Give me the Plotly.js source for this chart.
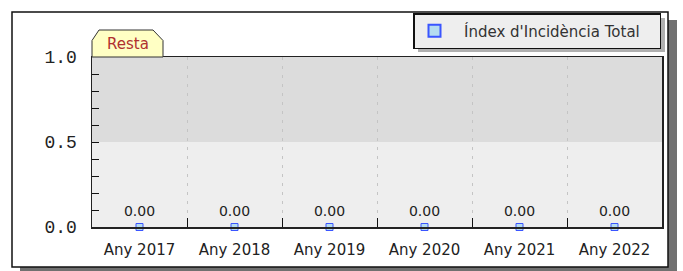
<!DOCTYPE html>
<html>
<head>
<meta charset="utf-8">
<script src="https://cdn.plot.ly/plotly-3.0.1.min.js"></script>
<style>html,body{margin:0;padding:0;background:#fff;}#chart{width:683px;height:271px;}</style>
</head>
<body>
<div id="chart"></div>
<script>
// ---- data ----
var categories = ["Any 2017", "Any 2018", "Any 2019", "Any 2020", "Any 2021", "Any 2022"];
var values = [0, 0, 0, 0, 0, 0];
var seriesName = "Índex d'Incidència Total";
var yTickVals = [0, 0.1, 0.2, 0.3, 0.4, 0.5, 0.6, 0.7, 0.8, 0.9, 1.0];
var yTickText = ["0.0", "", "", "", "", "0.5", "", "", "", "", "1.0"];
var bandLabel = "Resta";

// ---- layout helpers (pixel -> paper) ----
var L = 92, R = 21, T = 57, B = 44, W = 683, H = 271;
var PW = W - L - R, PH = H - T - B;
function px(x) { return (x - L) / PW; }
function py(y) { return (H - B - y) / PH; }

var traces = [
  {
    type: "scatter", mode: "markers", x: categories, y: values,
    name: "\u00a0\u00a0" + seriesName + "\u00a0\u00a0\u00a0",
    marker: { symbol: "square", size: 7, color: "#b4dcf0", line: { color: "#3a55ff", width: 1 } },
    cliponaxis: false, hoverinfo: "skip"
  },
  {
    type: "scatter", mode: "markers+text", x: categories, y: values, showlegend: false,
    marker: { size: 11, opacity: 0 },
    texttemplate: "%{y:.2f}", textposition: "top center",
    textfont: { family: "DejaVu Sans", size: 14, color: "#222" },
    cliponaxis: false, hoverinfo: "skip"
  }
];

var tabPath = "M " + px(92) + " " + py(57) + " L " + px(92) + " " + py(40.5) +
  " L " + px(99) + " " + py(30) + " L " + px(153) + " " + py(30) +
  " L " + px(163) + " " + py(40.5) + " L " + px(163) + " " + py(57) + " Z";

var layout = {
  width: W, height: H,
  margin: { l: L, r: R, t: T, b: B, pad: 0 },
  paper_bgcolor: "#ffffff", plot_bgcolor: "rgba(0,0,0,0)",
  showlegend: true,
  legend: {
    x: px(413), y: py(13), xanchor: "left", yanchor: "top",
    bgcolor: "#eeeeee", bordercolor: "#111", borderwidth: 1.5,
    itemsizing: "constant",
    font: { family: "DejaVu Sans", size: 15, color: "#333" }
  },
  xaxis: {
    type: "category", range: [-0.5, 5.5], fixedrange: true,
    tickson: "boundaries", ticks: "inside", ticklen: 9, tickwidth: 1, tickcolor: "#111",
    showgrid: true, gridcolor: "#c4c4c4", griddash: "3px,6px", gridwidth: 1,
    showline: true, linecolor: "#222", linewidth: 1.5, mirror: true, zeroline: false,
    ticklabelstandoff: 8,
    tickfont: { family: "DejaVu Sans", size: 15, color: "#222" }
  },
  yaxis: {
    range: [0, 1], fixedrange: true,
    tickmode: "array", tickvals: yTickVals, ticktext: yTickText,
    ticks: "inside", ticklen: 7, tickwidth: 1, tickcolor: "#111",
    showgrid: false, zeroline: false,
    showline: true, linecolor: "#222", linewidth: 1.5, mirror: true,
    ticklabelstandoff: 10,
    tickfont: { family: "Liberation Mono", size: 18, color: "#222" }
  },
  shapes: [
    // outer frame shadow
    { type: "rect", xref: "paper", yref: "paper", layer: "below",
      x0: px(20), x1: px(677), y0: py(276), y1: py(20), fillcolor: "#707070", line: { width: 0 } },
    // outer frame
    { type: "rect", xref: "paper", yref: "paper", layer: "below",
      x0: px(12), x1: px(668), y0: py(267), y1: py(12), fillcolor: "#ffffff", line: { color: "#111", width: 1.5 } },
    // bands
    { type: "rect", xref: "paper", yref: "y", layer: "below",
      x0: 0, x1: 1, y0: 0, y1: 0.5, fillcolor: "#eeeeee", line: { width: 0 } },
    { type: "rect", xref: "paper", yref: "y", layer: "below",
      x0: 0, x1: 1, y0: 0.5, y1: 1, fillcolor: "#dcdcdc", line: { width: 0 } },
    // legend shadow
    { type: "rect", xref: "paper", yref: "paper", layer: "below",
      x0: px(418), x1: px(665), y0: py(52), y1: py(18), fillcolor: "#b0b0b0", line: { width: 0 } },
    // band tab
    { type: "path", xref: "paper", yref: "paper", layer: "above", path: tabPath,
      fillcolor: "#ffffc4", line: { color: "#333", width: 1 } }
  ],
  annotations: [
    { xref: "paper", yref: "paper", x: px(127.5), y: py(44), text: bandLabel, showarrow: false,
      xanchor: "center", yanchor: "middle",
      font: { family: "DejaVu Sans", size: 15, color: "#b03030" } }
  ]
};

Plotly.newPlot("chart", traces, layout, { staticPlot: true, displayModeBar: false });
</script>
</body>
</html>
